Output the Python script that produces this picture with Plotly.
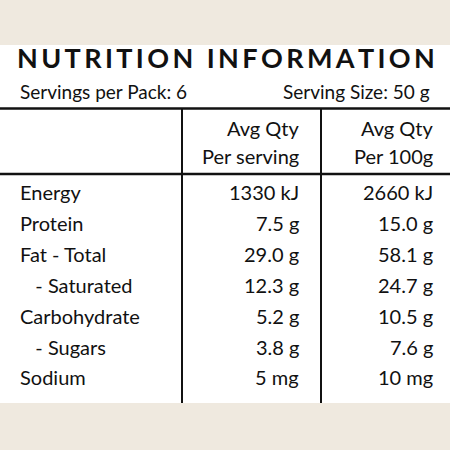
import plotly.graph_objects as go

title = "NUTRITION INFORMATION"
servings = "Servings per Pack: 6"
size = "Serving Size: 50 g"
head1 = ["Avg Qty", "Per serving"]
head2 = ["Avg Qty", "Per 100g"]
nutrients = ["Energy", "Protein", "Fat - Total", "   - Saturated", "Carbohydrate", "   - Sugars", "Sodium"]
per_serving = ["1330 kJ", "7.5 g", "29.0 g", "12.3 g", "5.2 g", "3.8 g", "5 mg"]
per_100g = ["2660 kJ", "15.0 g", "58.1 g", "24.7 g", "10.5 g", "7.6 g", "10 mg"]

F = "Lato, sans-serif"
fig = go.Figure()
ann = []

def txt(x, y, t, anchor="left", size=20, bold=False):
    ann.append(dict(x=x, y=y, xref="x", yref="y", text=f"<b>{t}</b>" if bold else t,
                    showarrow=False, xanchor=anchor, yanchor="middle",
                    font=dict(family=F, size=size, color="#111")))

spaced = "\u2009".join(title).replace("\u2009 \u2009", "\u2009\u2009\u2009\u2009")
txt(226, 57, spaced, "center", 27, True)
txt(18, 91, servings, size=19)
txt(432, 91, size, "right", 19)
for i, (a, b) in enumerate(zip(head1, head2)):
    txt(301, 128 + i * 28, a, "right")
    txt(435, 128 + i * 28, b, "right")
for i, (n, a, b) in enumerate(zip(nutrients, per_serving, per_100g)):
    y = 192 + i * 30.9
    txt(18, y, n.replace(" ", "\u00a0"))
    txt(301, y, a, "right")
    txt(435, y, b, "right")

shapes = [
    dict(type="rect", x0=0, x1=450, y0=45, y1=403, fillcolor="white", line_width=0, layer="below"),
    dict(type="line", x0=0, x1=450, y0=108.5, y1=108.5, line=dict(color="#111", width=2.5)),
    dict(type="line", x0=0, x1=450, y0=174, y1=174, line=dict(color="#111", width=2.5)),
    dict(type="line", x0=182, x1=182, y0=108, y1=403, line=dict(color="#111", width=2)),
    dict(type="line", x0=321, x1=321, y0=108, y1=403, line=dict(color="#111", width=2)),
]
fig.update_layout(width=450, height=450, margin=dict(l=0, r=0, t=0, b=0),
                  paper_bgcolor="#efe9df", plot_bgcolor="#efe9df",
                  xaxis=dict(range=[0, 450], visible=False, fixedrange=True),
                  yaxis=dict(range=[450, 0], visible=False, fixedrange=True),
                  annotations=ann, shapes=shapes, showlegend=False)
fig.write_html("out.html", config={"displayModeBar": False},
               post_script="document.body.style.margin='0';document.body.style.overflow='hidden';")
